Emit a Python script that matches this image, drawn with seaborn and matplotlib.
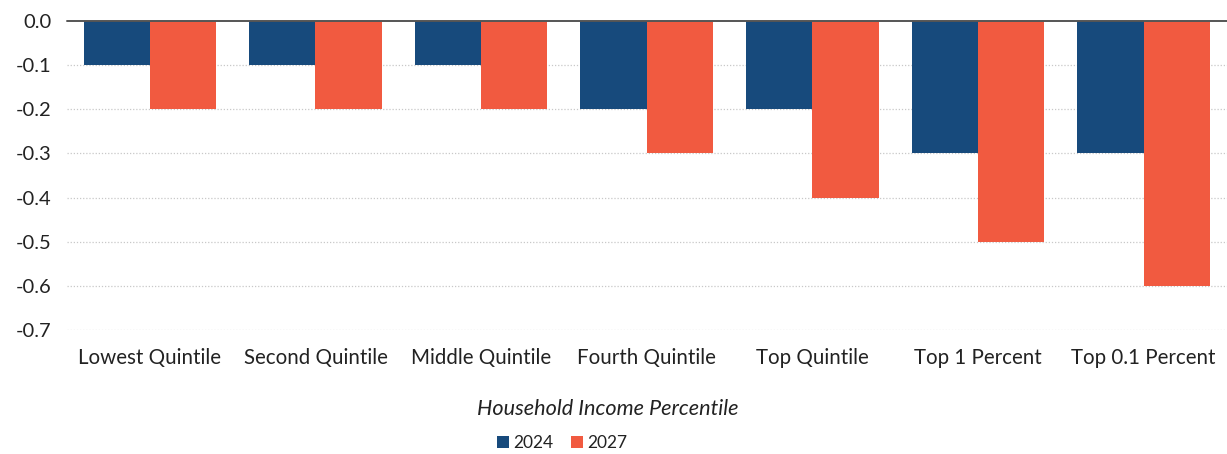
import matplotlib
matplotlib.use("Agg")
import matplotlib.pyplot as plt
import seaborn as sns
import pandas as pd
from matplotlib.patches import Patch

categories = ["Lowest Quintile", "Second Quintile", "Middle Quintile", "Fourth Quintile",
              "Top Quintile", "Top 1 Percent", "Top 0.1 Percent"]
values_2024 = [-0.1, -0.1, -0.1, -0.2, -0.2, -0.3, -0.3]
values_2027 = [-0.2, -0.2, -0.2, -0.3, -0.4, -0.5, -0.6]
years = ["2024", "2027"]
colors = ["#174A7C", "#F15A40"]
y_ticks = [0.0, -0.1, -0.2, -0.3, -0.4, -0.5, -0.6, -0.7]

df = pd.DataFrame({
    "group": categories * 2,
    "year": [years[0]] * len(categories) + [years[1]] * len(categories),
    "value": values_2024 + values_2027,
})

sns.set_theme(style="white")
plt.rcParams["font.family"] = ["Lato", "DejaVu Sans"]

fig = plt.figure(figsize=(12.27, 4.54), dpi=100)
ax = fig.add_axes([0.0546, 0.273, 0.945, 0.681])

sns.barplot(data=df, x="group", y="value", hue="year", order=categories,
            hue_order=years, palette=colors, width=0.8, saturation=1,
            edgecolor="none", legend=False, ax=ax)

ax.set_ylim(-0.7, 0.0)
ax.set_xlim(-0.5, len(categories) - 0.5)
ax.set_yticks(y_ticks)
ax.set_yticklabels([f"{t:.1f}" for t in y_ticks])
for t in y_ticks[1:]:
    ax.axhline(t, color="#c8c8c8", linestyle=(0, (1, 1.5)), linewidth=0.9, zorder=0)
ax.axhline(0, color="#555555", linewidth=1.4, zorder=3, clip_on=False)

for s in ax.spines.values():
    s.set_visible(False)
ax.tick_params(axis="x", length=0, labelsize=14.8, colors="#222222", pad=13)
ax.tick_params(axis="y", length=0, labelsize=14.5, colors="#222222", pad=11)

ax.set_ylabel("")
ax.set_xlabel("")
fig.text(0.495, 0.099, "Household Income Percentile", fontsize=15.6,
         fontstyle="italic", color="#222222", ha="center", va="center")

handles = [Patch(facecolor=c, edgecolor="none") for c in colors]
fig.legend(handles, years, loc="center", bbox_to_anchor=(0.458, 0.024), ncol=2,
           frameon=False, fontsize=12.5, handlelength=0.7, handleheight=0.7,
           handletextpad=0.25, columnspacing=1.0, labelcolor="#222222")

fig.savefig("out.png", dpi=100)
